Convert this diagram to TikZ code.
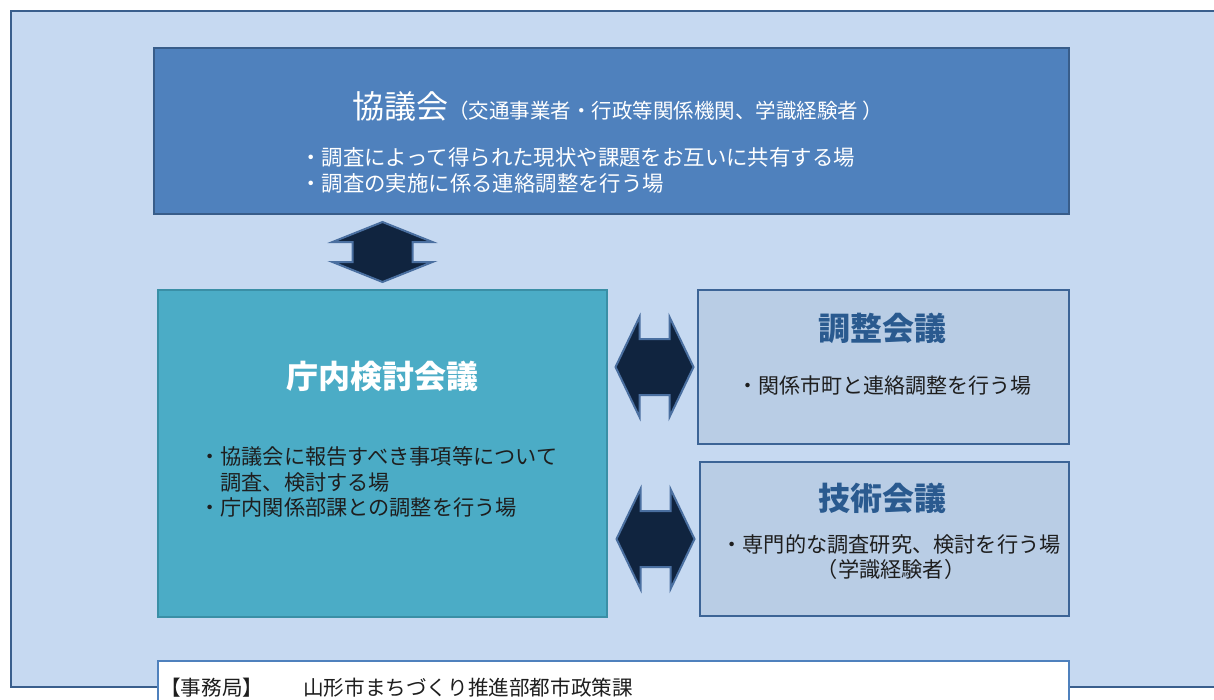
\documentclass[tikz,border=0pt]{standalone}
\usepackage{fontspec}
\setmainfont{Noto Sans CJK JP}
\usetikzlibrary{calc}
\definecolor{framebg}{HTML}{C6D9F1}
\definecolor{frameline}{HTML}{3A5F8D}
\definecolor{kyogifill}{HTML}{4F81BD}
\definecolor{kyogiline}{HTML}{385D8A}
\definecolor{chonaifill}{HTML}{4BACC6}
\definecolor{chonailine}{HTML}{3A8FA6}
\definecolor{subfill}{HTML}{B9CDE5}
\definecolor{subline}{HTML}{3C6496}
\definecolor{subtitle}{HTML}{2A5A8F}
\definecolor{arrowfill}{HTML}{10243F}
\definecolor{arrowline}{HTML}{4A6FA0}
\definecolor{bodytext}{HTML}{1E1E1E}

\begin{document}
\begin{tikzpicture}[x=1pt, y=-1pt,
    box/.style={draw, line width=2pt, inner sep=0pt, anchor=north west},
    dblarrow/.style={fill=arrowfill, draw=arrowline, line width=2pt, line join=miter},
    titletext/.style={font=\fontsize{32}{38}\selectfont\bfseries},
    bullettext/.style={align=left, anchor=west, inner sep=0pt, text=bodytext}]
\clip (0,0) rectangle (1214,699);
\fill[white] (0,0) rectangle (1214,699);

%% 外枠
\node[box, draw=frameline, fill=framebg, minimum width=1215pt, minimum height=676pt] (frame) at (10,10) {};

%% 協議会
\node[box, draw=kyogiline, fill=kyogifill, minimum width=915pt, minimum height=166pt] (kyogi) at (153,47) {};
\node[anchor=base west, inner sep=0pt, text=white] (kyogititle) at (352,118)
    {\fontsize{32}{38}\selectfont 協議会\fontsize{20.5}{24}\selectfont（交通事業者・行政等関係機関、学識経験者 ）};
\node[bullettext, text=white, font=\fontsize{21.4}{26}\selectfont] (kyogibody) at (300,170)
    {・調査によって得られた現状や課題をお互いに共有する場\\・調査の実施に係る連絡調整を行う場};

%% 庁内検討会議
\node[box, draw=chonailine, fill=chonaifill, minimum width=449pt, minimum height=327pt] (chonai) at (157,289) {};
\node[titletext, text=white] (chonaititle) at (382,376) {庁内検討会議};
\node[bullettext, font=\fontsize{21.2}{25.5}\selectfont] (chonaibody) at (199,482)
    {・協議会に報告すべき事項等について\\　調査、検討する場\\・庁内関係部課との調整を行う場};

%% 調整会議
\node[box, draw=subline, fill=subfill, minimum width=371pt, minimum height=154pt] (chosei) at (697,289) {};
\node[titletext, text=subtitle] (choseititle) at (882,328) {調整会議};
\node[text=bodytext, font=\fontsize{21}{25}\selectfont] (chosebody) at (884,386) {・関係市町と連絡調整を行う場};

%% 技術会議
\node[box, draw=subline, fill=subfill, minimum width=369pt, minimum height=154pt] (gijutsu) at (699,461) {};
\node[titletext, text=subtitle] (gijutsutitle) at (882,498) {技術会議};
\node[text=bodytext, align=center, font=\fontsize{21.2}{25}\selectfont] (gijutsubody) at (891,557)
    {・専門的な調査研究、検討を行う場\\（学識経験者）};

%% 事務局
\node[box, draw=kyogifill, fill=white, minimum width=911pt, minimum height=60pt] (jimu) at (157,660) {};
\node[anchor=west, inner sep=0pt, text=bodytext, font=\fontsize{20.6}{24}\selectfont] (jimulabel) at (160,688) {【事務局】};
\node[anchor=west, inner sep=0pt, text=bodytext, font=\fontsize{20.6}{24}\selectfont] (jimuname) at (303,688) {山形市まちづくり推進部都市政策課};

%% 両矢印
\coordinate (va) at ($(kyogi.south -| chonai.north)!.5!(chonai.north)$);
\draw[dblarrow, shift={(va)}] (0,-30) -- (50,-10) -- (30,-10) -- (30,10) -- (50,10) -- (0,30)
    -- (-50,10) -- (-30,10) -- (-30,-10) -- (-50,-10) -- cycle;
\foreach \target in {chosei, gijutsu}
{
    \coordinate (ha) at ($(chonai.east |- \target.west)!.5!(\target.west)+(2,0)$);
    \draw[dblarrow, shift={(ha)}] (-39,0) -- (-15,-50) -- (-15,-28) -- (15,-28) -- (15,-50) -- (39,0)
        -- (15,50) -- (15,28) -- (-15,28) -- (-15,50) -- cycle;
}

\end{tikzpicture}
\end{document}
